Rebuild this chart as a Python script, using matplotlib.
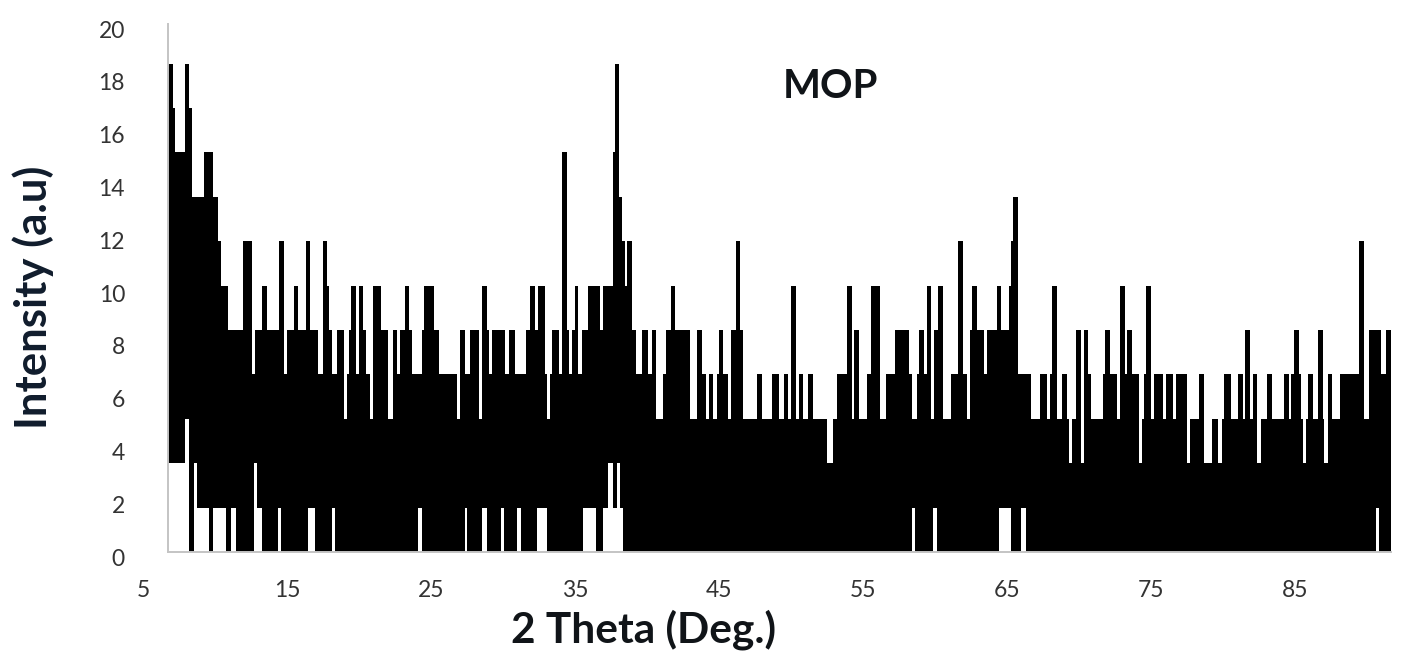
import matplotlib
matplotlib.use("Agg")
import matplotlib.pyplot as plt
from matplotlib.transforms import ScaledTranslation

# Upper outline of the pattern (start of each step, last entry closes the trace)
top_edges = [
    6.76, 7.06, 7.25, 7.92, 8.22, 8.40, 9.26, 9.88, 10.23, 10.42,
    10.93, 11.92, 12.55, 12.80, 13.24, 13.63, 14.44, 14.79, 15.00, 15.46,
    15.79, 16.30, 16.62, 17.13, 17.48, 17.75, 17.94, 18.12, 18.47, 18.96,
    19.14, 19.33, 19.47, 19.79, 20.00, 20.30, 20.49, 20.76, 20.99, 21.50,
    21.99, 22.34, 22.64, 22.87, 23.17, 23.50, 23.68, 24.35, 24.51, 25.18,
    25.53, 26.83, 27.04, 27.33, 27.70, 28.31, 28.54, 28.86, 29.02, 29.26,
    30.14, 30.39, 30.85, 31.57, 31.87, 32.22, 32.40, 32.91, 33.03, 33.26,
    33.42, 33.86, 34.07, 34.42, 34.58, 34.81, 35.00, 35.23, 35.46, 35.92,
    36.73, 36.96, 37.61, 37.77, 38.07, 38.28, 38.47, 38.63, 38.93, 39.23,
    39.63, 40.09, 40.32, 40.60, 41.13, 41.32, 41.64, 41.94, 42.98, 43.47,
    43.79, 44.09, 44.32, 44.60, 44.83, 45.02, 45.30, 45.60, 45.81, 46.15,
    46.48, 46.69, 47.66, 47.98, 48.68, 49.17, 49.51, 49.81, 50.00, 50.35,
    50.53, 50.85, 51.16, 51.53, 52.52, 52.94, 53.22, 53.86, 54.21, 54.37,
    54.70, 55.25, 55.55, 56.20, 56.57, 57.24, 58.22, 58.38, 58.75, 58.91,
    59.23, 59.42, 59.74, 59.95, 60.23, 60.58, 61.11, 61.57, 61.92, 62.20,
    62.45, 62.59, 62.91, 63.42, 63.63, 64.28, 64.60, 65.11, 65.30, 65.44,
    65.79, 66.64, 67.29, 67.78, 68.01, 68.12, 68.45, 68.82, 69.14, 69.28,
    69.51, 69.79, 70.11, 70.35, 70.65, 70.81, 71.64, 71.83, 72.15, 72.64,
    72.82, 73.17, 73.36, 73.68, 74.17, 74.38, 74.51, 74.65, 75.00, 75.19,
    75.83, 76.04, 76.50, 76.71, 77.50, 77.73, 78.36, 78.70, 79.21, 79.65,
    79.91, 80.05, 80.53, 81.04, 81.39, 81.55, 81.90, 82.06, 82.39, 82.62,
    83.06, 83.40, 84.24, 84.58, 84.75, 84.91, 85.26, 85.42, 85.53, 85.79,
    85.93, 86.27, 86.57, 86.92, 87.04, 87.27, 87.59, 88.13, 89.42, 89.79,
    90.16, 90.95, 91.30, 91.64,
]
top_levels = [
    18.5, 16.82, 15.14, 18.5, 16.82, 13.45, 15.14, 13.45, 11.77, 10.09,
    8.41, 11.77, 6.73, 8.41, 10.09, 8.41, 11.77, 6.73, 8.41, 10.09,
    8.41, 11.77, 8.41, 6.73, 11.77, 10.09, 8.41, 6.73, 8.41, 5.05,
    6.73, 8.41, 10.09, 6.73, 10.09, 8.41, 6.73, 5.05, 10.09, 8.41,
    5.05, 8.41, 6.73, 8.41, 10.09, 8.41, 6.73, 8.41, 10.09, 8.41,
    6.73, 5.05, 8.41, 6.73, 8.41, 5.05, 10.09, 8.41, 6.73, 8.41,
    6.73, 8.41, 6.73, 8.41, 10.09, 8.41, 10.09, 6.73, 5.05, 6.73,
    8.41, 6.73, 15.14, 8.41, 6.73, 8.41, 10.09, 6.73, 8.41, 10.09,
    8.41, 10.09, 15.14, 18.5, 13.45, 11.77, 10.09, 11.77, 8.41, 6.73,
    8.41, 6.73, 8.41, 5.05, 6.73, 8.41, 10.09, 8.41, 5.05, 8.41,
    6.73, 5.05, 6.73, 5.05, 6.73, 8.41, 6.73, 5.05, 8.41, 11.77,
    8.41, 5.05, 6.73, 5.05, 6.73, 5.05, 6.73, 5.05, 10.09, 5.05,
    6.73, 5.05, 6.73, 5.05, 3.36, 5.05, 6.73, 10.09, 5.05, 8.41,
    5.05, 6.73, 10.09, 5.05, 6.73, 8.41, 6.73, 5.05, 6.73, 8.41,
    6.73, 10.09, 5.05, 8.41, 10.09, 5.05, 6.73, 11.77, 6.73, 5.05,
    8.41, 10.09, 8.41, 6.73, 8.41, 10.09, 8.41, 10.09, 11.77, 13.45,
    6.73, 5.05, 6.73, 5.05, 6.73, 10.09, 5.05, 6.73, 5.05, 3.36,
    5.05, 8.41, 3.36, 8.41, 6.73, 5.05, 6.73, 8.41, 6.73, 5.05,
    10.09, 6.73, 8.41, 6.73, 3.36, 5.05, 6.73, 10.09, 5.05, 6.73,
    5.05, 6.73, 5.05, 6.73, 3.36, 5.05, 6.73, 3.36, 5.05, 3.36,
    5.05, 6.73, 5.05, 6.73, 5.05, 8.41, 5.05, 6.73, 3.36, 5.05,
    6.73, 5.05, 6.73, 5.05, 6.73, 8.41, 6.73, 5.05, 3.36, 5.05,
    6.73, 5.05, 8.41, 5.05, 3.36, 6.73, 5.05, 6.73, 11.77, 5.05,
    8.41, 6.73, 8.41,
]

# Lower outline: the trace only falls to zero in some places
low_edges = [
    6.76, 7.92, 8.22, 8.54, 8.77, 9.58, 9.88, 10.74, 11.11, 11.44,
    12.73, 12.94, 13.29, 14.40, 14.58, 16.43, 16.97, 18.10, 18.31, 24.12,
    24.35, 27.36, 27.52, 28.51, 28.86, 29.83, 30.07, 30.99, 31.22, 32.38,
    33.07, 35.57, 36.45, 36.92, 37.26, 37.61, 37.89, 38.14, 38.30, 58.38,
    58.59, 59.88, 60.11, 64.42, 65.25, 65.95, 66.29, 90.60, 90.83, 91.64,
]
low_levels = [
    3.36, 5.05, 0, 3.36, 1.68, 0, 1.68, 0, 1.68, 0,
    3.36, 1.68, 0, 1.68, 0, 1.68, 0, 1.68, 0, 1.68,
    0, 1.68, 0, 1.68, 0, 1.68, 0, 1.68, 0, 1.68,
    0, 1.68, 0, 1.68, 3.36, 1.68, 3.36, 1.68, 0, 1.68,
    0, 1.68, 0, 1.68, 0, 1.68, 0, 1.68, 0,
]

x_ticks = [5, 15, 25, 35, 45, 55, 65, 75, 85]
y_ticks = [0, 2, 4, 6, 8, 10, 12, 14, 16, 18, 20]

plt.rcParams['font.family'] = ['Lato', 'DejaVu Sans']

fig = plt.figure(figsize=(14.03, 6.56), dpi=100)
ax = fig.add_axes([143 / 1403, 104 / 656, 1248 / 1403, 528 / 656])

ax.stairs(top_levels, top_edges, fill=True, color='black', lw=0, zorder=2)
ax.stairs(low_levels, low_edges, fill=True, color='white', lw=0, zorder=3)

ax.set_xlim(5, 91.67)
ax.set_ylim(0, 20)
ax.set_xticks(x_ticks)
ax.set_yticks(y_ticks)

# axis line starts past the first label, as in the original
ax.spines['top'].set_visible(False)
ax.spines['right'].set_visible(False)
ax.spines['left'].set_position(('data', 6.74))
ax.spines['left'].set_color('#c4c4c4')
ax.spines['bottom'].set_color('#c4c4c4')
ax.spines['left'].set_linewidth(1.4)
ax.spines['bottom'].set_linewidth(1.4)
ax.spines['bottom'].set_bounds(6.74, 91.67)
ax.spines['left'].set_zorder(4)
ax.spines['bottom'].set_zorder(4)

ax.tick_params(axis='x', length=0, pad=20, labelsize=16.5, labelcolor='#333333')
ax.tick_params(axis='y', length=0, pad=31, labelsize=16.5, labelcolor='#333333')
shift = ScaledTranslation(0, -5 / 100, fig.dpi_scale_trans)
for lab in ax.get_yticklabels():
    lab.set_transform(lab.get_transform() + shift)

fig.text(33 / 1403, 1 - 297 / 656, "Intensity (a.u)", rotation=90, ha='center', va='center',
         fontsize=31.5, fontweight='bold', color='#101c2c')
fig.text(644 / 1403, 1 - 630 / 656, "2 Theta (Deg.)", ha='center', va='center',
         fontsize=30.5, fontweight='bold', color='#101418')
fig.text(830 / 1403, 1 - 87 / 656, "MOP", ha='center', va='center',
         fontsize=29, fontweight='bold', color='#101418')

fig.savefig("out.png", dpi=100)
